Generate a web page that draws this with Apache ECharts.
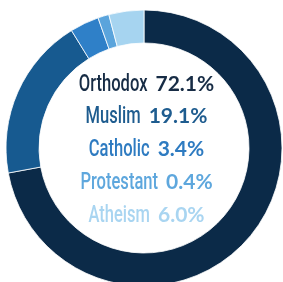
<!DOCTYPE html>
<html>
<head>
<meta charset="utf-8">
<script src="https://cdn.jsdelivr.net/npm/echarts@6/dist/echarts.min.js"></script>
<style>
  html, body { margin: 0; padding: 0; background: #fff; }
  #chart { width: 283px; height: 282px; }
</style>
</head>
<body>
<div id="chart"></div>
<script>
// religions, printed shares, and arc sizes as drawn in the ring
var religions = ['Orthodox', 'Muslim', 'Catholic', 'Protestant', 'Atheism'];
var shareLabels = ['72.1%', '19.1%', '3.4%', '0.4%', '6.0%'];
var arcShares = [72.1, 19.1, 3.4, 1.3, 4.1];
var sliceColors = ['#0b2a48', '#175a90', '#2f80c8', '#5aa4dc', '#a6d4f0'];
var textColors = ['#172c45', '#1e5c8f', '#2e7bc1', '#5ea7dd', '#a9d5f1'];

var chart = echarts.init(document.getElementById('chart'));

var pieData = religions.map(function (name, i) {
  return { name: name, value: arcShares[i], itemStyle: { color: sliceColors[i] } };
});

// fonts: names are squeezed horizontally to look condensed
var nameFont = '500 23px Roboto';
var valueFont = 'bold 21px Lato';
var squeeze = 0.72;
var gap = 8;
var ctx = document.createElement('canvas').getContext('2d');
function textWidth(txt, font) {
  ctx.font = font;
  return ctx.measureText(txt).width;
}

var lines = [];
religions.forEach(function (name, i) {
  var wn = textWidth(name, nameFont) * squeeze;
  var wv = textWidth(shareLabels[i], valueFont);
  var left = 146.5 - (wn + gap + wv) / 2;
  var y = 84 + i * 32.7;
  lines.push({
    type: 'text',
    x: left,
    y: y + 1,
    scaleX: squeeze,
    style: {
      text: name,
      font: nameFont,
      fill: textColors[i],
      align: 'left',
      verticalAlign: 'middle'
    }
  });
  lines.push({
    type: 'text',
    x: left + wn + gap,
    y: y,
    style: {
      text: shareLabels[i],
      font: valueFont,
      fill: textColors[i],
      align: 'left',
      verticalAlign: 'middle'
    }
  });
});

chart.setOption({
  animation: false,
  graphic: lines,
  series: [{
    type: 'pie',
    center: [144, 148],
    radius: [105, 138],
    startAngle: 90,
    clockwise: true,
    silent: true,
    label: { show: false },
    labelLine: { show: false },
    itemStyle: { borderColor: '#ffffff', borderWidth: 0.8 },
    data: pieData
  }]
});
</script>
</body>
</html>
